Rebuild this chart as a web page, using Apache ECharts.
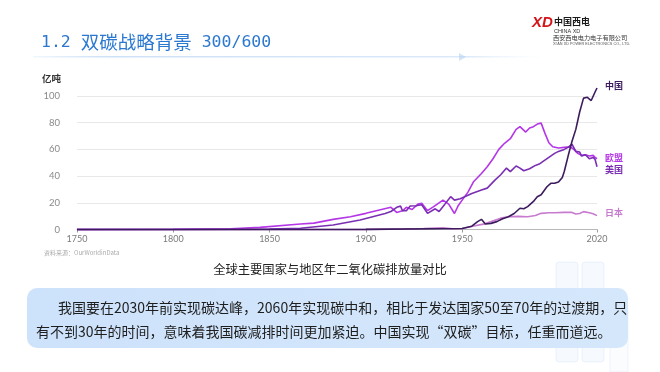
<!DOCTYPE html>
<html><head><meta charset="utf-8">
<script src="https://cdn.jsdelivr.net/npm/echarts@6/dist/echarts.min.js"></script>
<style>html,body{margin:0;padding:0;background:#fff}#c{width:660px;height:372px}</style>
</head><body><div id="c"></div>
<script>
// ---- data (亿吨) ----
const xTickLabels = [1750, 1800, 1850, 1900, 1950, 2020];
const yTickLabels = [0, 20, 40, 60, 80, 100];
const seriesNames = ['中国', '欧盟', '美国', '日本'];

const chinaYears  = [1750,1900,1950,1955,1958,1960,1962,1965,1968,1971,1974,1977,1980,1982,1984,1987,1989,1991,1994,1996,1998,2000,2002,2003,2005,2007,2009,2011,2013,2015,2017,2019,2020];
const chinaValues = [0,0.1,0.8,2.5,5.9,7.6,4.1,4.6,5.9,8,9.6,12,15.9,15.5,17.1,21,24.6,26,32,34.6,34.6,35.5,39,43.4,55,66,75,88,98.4,99,96.6,103,106];

const euYears  = [1750,1800,1830,1845,1866,1873,1883,1892,1900,1907,1913,1916,1919,1921,1924,1927,1929,1932,1935,1938,1940,1943,1946,1948,1950,1953,1956,1960,1963,1966,1969,1972,1975,1978,1980,1983,1985,1987,1989,1991,1993,1995,1997,2000,2003,2006,2008,2010,2012,2014,2016,2018,2019,2020];
const euValues = [0,0.2,0.6,1.6,4.1,4.8,7.6,9.6,12.1,14.6,16.6,12.8,14,16.6,15,19,19.6,14.1,17,20,22,19,12,18,22,28,36,42,47,53,60,64.6,68,75,77,73,76,77,79,79.7,72,65,62,61,61.5,62,60,57,55.5,56,55,55.5,54,53];

const usYears  = [1750,1800,1850,1866,1883,1897,1907,1910,1913,1916,1918,1919,1921,1923,1926,1929,1932,1936,1938,1941,1944,1946,1949,1950,1955,1960,1963,1967,1970,1973,1975,1978,1980,1982,1985,1988,1990,1992,1995,1998,2000,2003,2005,2007,2009,2011,2012,2014,2016,2018,2019,2020];
const usValues = [0,0.05,0.3,0.9,3.4,7.1,10.9,12,13.5,16.6,17.5,14,14.1,17.6,17.8,18.5,12.1,15.5,13.5,19,24.6,22,23,24,27,29.6,31,37,41,46,43.4,47.6,46,44,45.5,48,49,51,54,57,58.5,60,61.5,64,58.5,58,55,56,53,54,52.5,47];

const japanYears  = [1750,1900,1920,1930,1940,1945,1950,1956,1961,1965,1970,1974,1979,1984,1988,1991,1995,1998,2003,2007,2009,2011,2013,2016,2018,2020];
const japanValues = [0,0.1,0.5,0.8,1.2,0.5,0.7,2.6,4,5.9,8.5,9.6,9.8,9.6,10.5,12.1,12.5,12.6,12.8,12.8,11.6,12,13.4,12.6,11.8,10.4];

const seriesColors = ['#3c1c5e', '#b536e6', '#7a2eb2', '#c77bcf'];
const labelOffsets = [[0, -2], [0, -1], [0, 3], [0, -3]];

function pairs(xs, ys) { return xs.map((x, i) => [x, ys[i]]); }
const seriesData = [pairs(chinaYears, chinaValues), pairs(euYears, euValues), pairs(usYears, usValues), pairs(japanYears, japanValues)];
const drawOrder = [3, 1, 2, 0];

const chart = echarts.init(document.getElementById('c'), null, {renderer: 'canvas'});
const cjk = '"Noto Sans CJK SC", "Noto Sans", sans-serif';

chart.setOption({
  backgroundColor: '#ffffff',
  animation: false,
  grid: {left: 77, right: 63, top: 96, bottom: 142.5, containLabel: false},
  xAxis: {
    type: 'value', min: 1750, max: 2020, interval: 50,
    axisLine: {show: true, lineStyle: {color: '#b8b8b8', width: 1}},
    axisTick: {show: true, length: 3, customValues: xTickLabels, lineStyle: {color: '#999'}},
    axisLabel: {customValues: xTickLabels, formatter: v => String(v), color: '#7a7a7a', fontSize: 9, margin: 5, fontFamily: 'Lato, sans-serif'},
    splitLine: {show: false}
  },
  yAxis: {
    type: 'value', min: 0, max: 100, interval: 20,
    name: '亿吨', nameLocation: 'end', nameGap: 13,
    nameTextStyle: {align: 'right', padding: [0, 16, 0, 0], color: '#333', fontSize: 9.5, fontWeight: 'bold', fontFamily: cjk},
    axisLine: {show: false}, axisTick: {show: false},
    axisLabel: {formatter: v => String(v), color: '#8a8a8a', fontSize: 9.5, margin: 17, fontFamily: 'Lato, sans-serif'},
    splitLine: {lineStyle: {color: '#e8e8e8', width: 1}}
  },
  series: drawOrder.map(i => ({
    name: seriesNames[i], type: 'line', data: seriesData[i],
    showSymbol: false, clip: false, smooth: false,
    lineStyle: {color: seriesColors[i], width: 1.6},
    itemStyle: {color: seriesColors[i]},
    endLabel: {show: true, formatter: seriesNames[i], color: seriesColors[i], fontSize: 9, fontWeight: 'bold', fontFamily: cjk, distance: 8,
      offset: labelOffsets[i]}
  })),
  graphic: [
    // title
    {type: 'text', left: 41, top: 33, style: {
      text: '{a|1.2 }{b|双碳战略背景}{a| 300/600}',
      rich: {
        a: {fontFamily: '"DejaVu Sans Mono", monospace', fontSize: 16.5, fill: '#2b78d0'},
        b: {fontFamily: cjk, fontSize: 18.5, fill: '#2b78d0'}
      }
    }},
    // title underline
    {type: 'rect', shape: {x: 33, y: 56, width: 510, height: 1.5}, style: {fill: new echarts.graphic.LinearGradient(0, 0, 1, 0, [
      {offset: 0, color: 'rgba(190,215,245,0.2)'}, {offset: 0.15, color: 'rgba(200,222,246,0.9)'}, {offset: 0.85, color: 'rgba(215,230,248,0.9)'}, {offset: 1, color: 'rgba(230,240,250,0)'}])}},
    {type: 'polygon', shape: {points: [[459, 53], [466, 57], [459, 61]]}, style: {fill: 'rgba(180,210,240,0.6)'}},
    // logo
    {type: 'text', left: 532, top: 15, style: {text: 'XD', fontFamily: '"Liberation Sans", sans-serif', fontSize: 15, fontWeight: 'bold', fontStyle: 'italic', fill: '#d4141a'}},
    {type: 'text', left: 554, top: 17, style: {text: '中国西电', fontFamily: cjk, fontSize: 9, fontWeight: 'bold', fill: '#1a1a1a'}},
    {type: 'text', left: 554, top: 28, style: {text: 'CHINA XD', fontFamily: '"Liberation Sans", sans-serif', fontSize: 5.5, fill: '#333'}},
    {type: 'text', left: 553, top: 35, style: {text: '西安西电电力电子有限公司', fontFamily: cjk, fontSize: 6.2, fill: '#333'}},
    {type: 'text', left: 553, top: 42, style: {text: "XI'AN XD POWER ELECTRONICS CO., LTD.", fontFamily: '"Liberation Sans", sans-serif', fontSize: 3.8, fill: '#555'}},
    // source
    {type: 'text', left: 44, top: 250, style: {text: '资料来源：OurWorldinData', fontFamily: cjk, fontSize: 6, fill: '#aaa'}},
    // caption
    {type: 'text', left: 'center', top: 263, style: {text: '全球主要国家与地区年二氧化碳排放量对比', fontFamily: cjk, fontSize: 12.3, fill: '#222'}},
    // watermark buildings
    {type: 'rect', z: 0, shape: {x: 556, y: 262, width: 22, height: 100, r: 3}, style: {fill: 'rgba(205,222,245,0.18)', stroke: 'rgba(200,220,245,0.35)'}},
    {type: 'rect', z: 0, shape: {x: 582, y: 262, width: 22, height: 100, r: 3}, style: {fill: 'rgba(205,222,245,0.18)', stroke: 'rgba(200,220,245,0.35)'}},
    {type: 'rect', z: 0, shape: {x: 610, y: 305, width: 18, height: 67}, style: {fill: 'rgba(210,228,248,0.12)', stroke: 'rgba(205,222,245,0.3)'}},
    // text box
    {type: 'rect', z: 1, shape: {x: 27, y: 288, width: 601, height: 60, r: 10}, style: {fill: new echarts.graphic.LinearGradient(0, 0, 1, 0, [
      {offset: 0, color: '#cde2fb'}, {offset: 1, color: '#d5e7fb'}])}},
    {type: 'text', z: 2, left: 58, top: 301, style: {text: '我国要在2030年前实现碳达峰，2060年实现碳中和，相比于发达国家50至70年的过渡期，只', fontFamily: cjk, fontSize: 14, fill: '#1e1e1e'}},
    {type: 'text', z: 2, left: 36, top: 325, style: {text: '有不到30年的时间，意味着我国碳减排时间更加紧迫。中国实现“双碳”目标，任重而道远。', fontFamily: cjk, fontSize: 14, fill: '#1e1e1e'}}
  ]
});
</script>
</body></html>
